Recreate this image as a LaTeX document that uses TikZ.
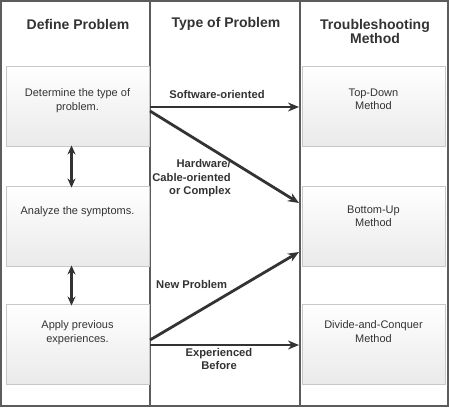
\documentclass[tikz,border=0pt]{standalone}
\usepackage{fontspec}
\setmainfont{Liberation Sans}
\usetikzlibrary{arrows.meta}
\definecolor{framegray}{HTML}{5C5C5C}
\definecolor{boxborder}{HTML}{C8C8C8}
\definecolor{boxbottom}{HTML}{EAEAEA}
\definecolor{txt}{HTML}{333333}
\definecolor{arrowc}{HTML}{333333}
\tikzset{
  frameline/.style={draw=framegray, line width=2pt},
  box/.style={draw=boxborder, line width=0.9pt, top color=white, bottom color=boxbottom, minimum width=143pt, minimum height=80pt, inner sep=0pt},
  boxtext/.style={anchor=north, align=center, text=txt, font=\fontsize{11}{13.5}\selectfont, inner sep=0pt},
  header/.style={align=center, text=txt, font=\fontsize{14}{13.5}\selectfont\bfseries, inner sep=0pt},
  lbl/.style={text=txt, font=\fontsize{11.2}{13.5}\selectfont\bfseries, inner sep=0pt},
  flow/.style={draw=arrowc, line width=2.8pt, -{Stealth[length=11pt,width=9pt]}},
  dbl/.style={draw=arrowc, line width=2.6pt, {Stealth[length=9pt,width=8pt]}-{Stealth[length=9pt,width=8pt]}}
}
\begin{document}
\begin{tikzpicture}[x=1pt,y=-1pt]
\useasboundingbox (0,0) rectangle (449,407);
\fill[white] (0,0) rectangle (449,407);
% frame
\draw[frameline] (1,1) rectangle (448,406);
\draw[frameline] (150,1) -- (150,406);
\draw[frameline] (300,1) -- (300,406);
% headers
\node[header] (h1) at (78,24) {Define Problem};
\node[header] (h2) at (226,24) {Type of Problem};
\node[header] (h3) at (375,31.5) {Troubleshooting\\Method};
% left boxes
\node[box] (l1) at (77.5,106) {};
\node[box] (l2) at (77.5,226) {};
\node[box] (l3) at (77.5,344) {};
\node[boxtext] (t1) at ([yshift=-23pt]l1.north) {Determine the type of\\problem.};
\node[boxtext] (t2) at ([yshift=-21pt]l2.north) {Analyze the symptoms.};
\node[boxtext] (t3) at ([yshift=-17pt]l3.north) {Apply previous\\experiences.};
% right boxes
\node[box] (r1) at (373.5,106) {};
\node[box] (r2) at (373.5,226) {};
\node[box] (r3) at (373.5,344) {};
\node[boxtext] (u1) at ([yshift=-23pt]r1.north) {Top-Down\\Method};
\node[boxtext] (u2) at ([yshift=-20pt]r2.north) {Bottom-Up\\Method};
\node[boxtext] (u3) at ([yshift=-17pt]r3.north) {Divide-and-Conquer\\Method};
% double arrows
\draw[dbl] ([xshift=-6pt,yshift=1pt]l1.south) -- ([xshift=-6pt,yshift=-2pt]l2.north);
\draw[dbl] ([xshift=-6pt,yshift=1pt]l2.south) -- ([xshift=-6pt,yshift=-2pt]l3.north);
% flow coordinates
\coordinate (s1) at (150,107);
\coordinate (s2) at (150,111);
\coordinate (e1) at (299,107);
\coordinate (e2) at (299,203);
\coordinate (s3) at (150,340);
\coordinate (s4) at (150,345);
\coordinate (e3) at (299,252);
\coordinate (e4) at (299,345);
\draw[flow] (s1) -- (e1);
\draw[flow] (s2) -- (e2);
\draw[flow] (s3) -- (e3);
\draw[flow] (s4) -- (e4);
% labels
\node[lbl] (a1) at (217,94) {Software-oriented};
\node[lbl, align=right, anchor=east] (a2) at (231,178.5) {Hardware/\\Cable-oriented\\or Complex};
\node[lbl, anchor=west] (a3) at (156,284) {New Problem};
\node[lbl, align=center] (a4) at (219,359) {Experienced\\Before};
\end{tikzpicture}
\end{document}
